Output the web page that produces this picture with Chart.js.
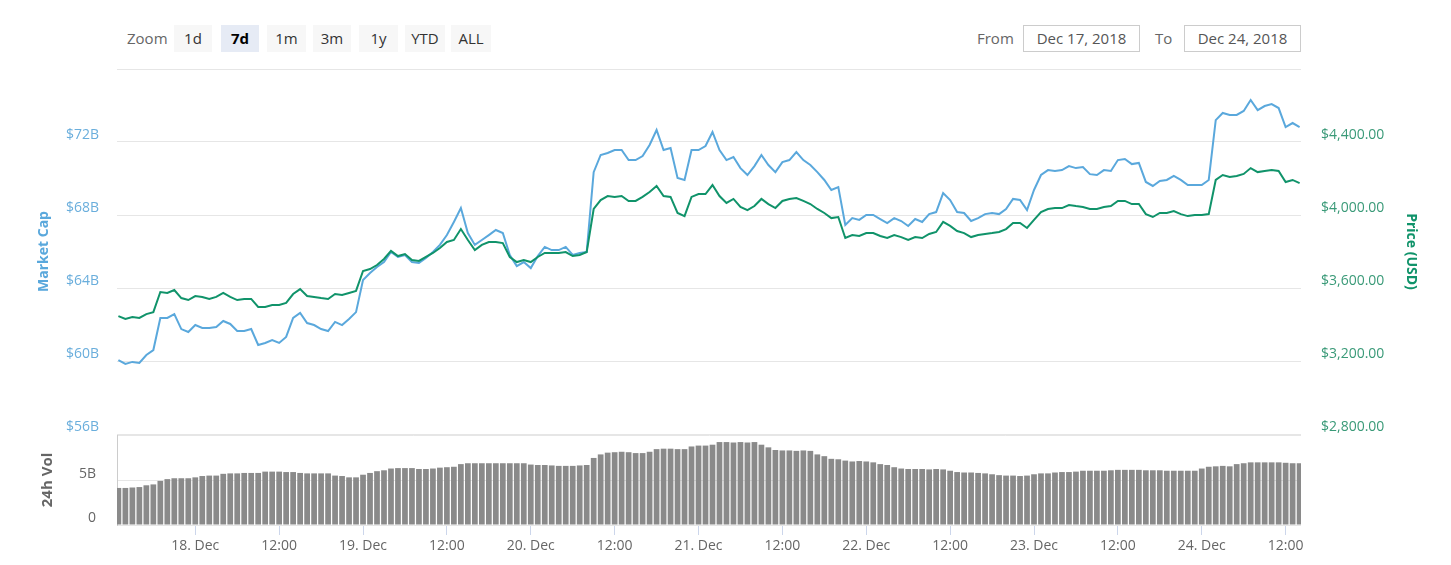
<!DOCTYPE html>
<html>
<head>
<meta charset="utf-8">
<script src="https://cdn.jsdelivr.net/npm/chart.js@4.4.0/dist/chart.umd.min.js"></script>
<style>
  body { margin: 0; background: #fff; font-family: "Open Sans", sans-serif; }
  #wrap { position: relative; width: 1451px; height: 565px; overflow: hidden; }
  canvas { position: absolute; left: 0; }
  .lbl { position: absolute; top: 28px; font-size: 15px; color: #666; }
  .btn { position: absolute; top: 25px; height: 27px; line-height: 27px; background: #f7f7f7;
         text-align: center; font-size: 15px; color: #333; }
  .btn.on { background: #e6ebf5; font-weight: bold; color: #000; }
  .date { position: absolute; top: 25px; width: 115px; height: 25px; line-height: 25px; border: 1px solid #ccc;
          text-align: center; font-size: 15px; color: #555; }
</style>
</head>
<body>
<div id="wrap">
  <canvas id="mainChart" width="1451" height="380" style="top:60px"></canvas>
  <canvas id="volChart" width="1451" height="135" style="top:430px"></canvas>
  <div id="toolbar"></div>
</div>
<script>
// hours relative to 18 Dec 2018 00:00 (one sample per hour)
const hours = [
  -11, -10, -9, -8, -7, -6, -5, -4, -3, -2, -1, 0,
  1, 2, 3, 4, 5, 6, 7, 8, 9, 10, 11, 12,
  13, 14, 15, 16, 17, 18, 19, 20, 21, 22, 23, 24,
  25, 26, 27, 28, 29, 30, 31, 32, 33, 34, 35, 36,
  37, 38, 39, 40, 41, 42, 43, 44, 45, 46, 47, 48,
  49, 50, 51, 52, 53, 54, 55, 56, 57, 58, 59, 60,
  61, 62, 63, 64, 65, 66, 67, 68, 69, 70, 71, 72,
  73, 74, 75, 76, 77, 78, 79, 80, 81, 82, 83, 84,
  85, 86, 87, 88, 89, 90, 91, 92, 93, 94, 95, 96,
  97, 98, 99, 100, 101, 102, 103, 104, 105, 106, 107, 108,
  109, 110, 111, 112, 113, 114, 115, 116, 117, 118, 119, 120,
  121, 122, 123, 124, 125, 126, 127, 128, 129, 130, 131, 132,
  133, 134, 135, 136, 137, 138, 139, 140, 141, 142, 143, 144,
  145, 146, 147, 148, 149, 150, 151, 152, 153, 154, 155, 156,
  157, 158
];

// market cap, billions USD
const marketCap = [
  60.05, 59.84, 59.95, 59.89, 60.33, 60.60, 62.36, 62.36, 62.57, 61.75, 61.59, 61.97,
  61.81, 61.81, 61.86, 62.19, 62.03, 61.64, 61.64, 61.75, 60.88, 60.99, 61.15, 60.99,
  61.32, 62.36, 62.63, 62.08, 61.97, 61.75, 61.64, 62.14, 61.97, 62.30, 62.68, 64.44,
  64.82, 65.15, 65.42, 65.97, 65.70, 65.81, 65.42, 65.37, 65.64, 65.97, 66.36, 66.90,
  67.62, 68.38, 67.01, 66.36, 66.63, 66.90, 67.18, 67.01, 65.81, 65.20, 65.42, 65.09,
  65.75, 66.25, 66.08, 66.08, 66.25, 65.81, 65.92, 65.97, 70.35, 71.29, 71.40, 71.56,
  71.56, 71.01, 71.01, 71.23, 71.84, 72.66, 71.56, 71.67, 70.03, 69.92, 71.56, 71.56,
  71.78, 72.55, 71.56, 71.01, 71.18, 70.57, 70.19, 70.68, 71.29, 70.74, 70.35, 70.90,
  71.01, 71.45, 71.01, 70.74, 70.35, 69.92, 69.37, 69.53, 67.45, 67.83, 67.73, 68.00,
  68.00, 67.78, 67.56, 67.83, 67.67, 67.40, 67.78, 67.62, 68.05, 68.16, 69.20, 68.82,
  68.16, 68.11, 67.67, 67.83, 68.05, 68.11, 68.05, 68.33, 68.88, 68.82, 68.27, 69.37,
  70.19, 70.46, 70.41, 70.46, 70.68, 70.57, 70.63, 70.24, 70.19, 70.46, 70.41, 71.01,
  71.07, 70.79, 70.85, 69.81, 69.59, 69.86, 69.92, 70.14, 69.92, 69.64, 69.64, 69.64,
  69.92, 73.20, 73.59, 73.48, 73.48, 73.70, 74.30, 73.75, 73.97, 74.08, 73.86, 72.82,
  73.04, 72.82
];

// price, USD
const price = [
  3446, 3430, 3441, 3436, 3457, 3468, 3578, 3573, 3589, 3545, 3534, 3556,
  3551, 3540, 3551, 3573, 3551, 3534, 3540, 3540, 3496, 3496, 3507, 3507,
  3518, 3567, 3594, 3556, 3551, 3545, 3540, 3567, 3562, 3573, 3584, 3693,
  3704, 3726, 3759, 3803, 3775, 3786, 3753, 3748, 3770, 3792, 3819, 3852,
  3863, 3923, 3863, 3808, 3836, 3852, 3852, 3846, 3770, 3742, 3753, 3742,
  3770, 3792, 3792, 3792, 3797, 3775, 3781, 3797, 4033, 4082, 4104, 4099,
  4104, 4077, 4077, 4099, 4126, 4159, 4104, 4099, 4011, 3994, 4099, 4115,
  4115, 4164, 4104, 4066, 4088, 4044, 4027, 4049, 4088, 4060, 4038, 4077,
  4088, 4093, 4077, 4060, 4033, 4011, 3983, 3989, 3874, 3890, 3885, 3901,
  3901, 3885, 3874, 3890, 3879, 3863, 3879, 3874, 3896, 3907, 3962, 3940,
  3912, 3901, 3879, 3890, 3896, 3901, 3907, 3923, 3956, 3956, 3929, 3973,
  4016, 4033, 4038, 4038, 4055, 4049, 4044, 4033, 4033, 4044, 4049, 4077,
  4077, 4060, 4060, 4005, 3989, 4011, 4011, 4022, 4005, 3994, 4000, 4000,
  4005, 4192, 4219, 4208, 4214, 4225, 4257, 4235, 4241, 4246, 4241, 4181,
  4192, 4175
];

// 24h volume, billions USD
const volume = [
  4.2, 4.2, 4.25, 4.3, 4.5, 4.6, 5.0, 5.2, 5.3, 5.3, 5.3, 5.4,
  5.55, 5.6, 5.6, 5.8, 5.85, 5.85, 5.9, 5.9, 5.9, 6.05, 6.05, 6.05,
  6.0, 6.0, 5.9, 5.85, 5.85, 5.85, 5.85, 5.6, 5.55, 5.4, 5.4, 5.7,
  5.9, 6.1, 6.2, 6.4, 6.45, 6.45, 6.45, 6.35, 6.35, 6.4, 6.5, 6.55,
  6.6, 6.9, 7.0, 7.0, 7.0, 7.0, 7.0, 7.0, 7.0, 7.0, 7.0, 6.85,
  6.8, 6.8, 6.75, 6.7, 6.7, 6.7, 6.75, 6.8, 7.6, 8.0, 8.2, 8.25,
  8.3, 8.25, 8.15, 8.15, 8.3, 8.6, 8.65, 8.65, 8.6, 8.6, 8.9, 9.0,
  9.0, 9.1, 9.4, 9.4, 9.35, 9.4, 9.35, 9.4, 9.1, 8.8, 8.5, 8.45,
  8.45, 8.4, 8.45, 8.4, 8.0, 7.8, 7.5, 7.45, 7.3, 7.2, 7.25, 7.2,
  7.1, 6.9, 6.8, 6.55, 6.4, 6.35, 6.35, 6.35, 6.3, 6.35, 6.3, 6.15,
  6.0, 5.95, 5.95, 5.9, 5.85, 5.75, 5.65, 5.6, 5.6, 5.55, 5.6, 5.75,
  5.85, 5.85, 5.95, 6.0, 6.0, 6.05, 6.15, 6.15, 6.15, 6.15, 6.2, 6.25,
  6.25, 6.25, 6.25, 6.2, 6.2, 6.2, 6.15, 6.15, 6.15, 6.15, 6.15, 6.4,
  6.6, 6.65, 6.7, 6.65, 6.9, 7.0, 7.1, 7.1, 7.1, 7.1, 7.1, 7.05,
  7.0, 7.0
];

// axis ticks
const xTicks = [0, 12, 24, 36, 48, 60, 72, 84, 96, 108, 120, 132, 144, 156];
const xTickLabels = ['18. Dec', '12:00', '19. Dec', '12:00', '20. Dec', '12:00', '21. Dec',
  '12:00', '22. Dec', '12:00', '23. Dec', '12:00', '24. Dec', '12:00'];
const capTicks = [56, 60, 64, 68, 72, 76];
const capTickLabels = ['$56B', '$60B', '$64B', '$68B', '$72B', ''];
const priceTicks = [2800, 3200, 3600, 4000, 4400, 4800];
const priceTickLabels = ['$2,800.00', '$3,200.00', '$3,600.00', '$4,000.00', '$4,400.00', ''];
const volTicks = [0, 5, 10.2];
const volTickLabels = ['0', '5B', ''];

const zoomButtons = ['1d', '7d', '1m', '3m', '1y', 'YTD', 'ALL'];
const zoomLeft = [174, 221, 267, 313, 359, 405, 451];
const zoomWidth = [38, 38, 39, 38, 39, 40, 40];

const X_MIN = -11.2, X_MAX = 158.2;
const BLUE = '#5aa8dc';
const GREEN = '#10936a';
const FONT = 'Open Sans';

// toolbar
const bar = document.getElementById('toolbar');
function addEl(cls, text, left, width) {
    const d = document.createElement('div');
    d.className = cls;
    d.textContent = text;
    d.style.left = left + 'px';
    if (width) d.style.width = width + 'px';
    bar.appendChild(d);
}
addEl('lbl', 'Zoom', 127);
zoomButtons.forEach((b, i) => addEl(b === '7d' ? 'btn on' : 'btn', b, zoomLeft[i], zoomWidth[i]));
addEl('lbl', 'From', 977);
addEl('date', 'Dec 17, 2018', 1023);
addEl('lbl', 'To', 1155);
addEl('date', 'Dec 24, 2018', 1184);

function fixedTicks(values) {
    return function(scale) { scale.ticks = values.map(v => ({ value: v })); };
}

// force exact axis sizes and drop the half-label padding chart.js adds
function fitSize(w, h) {
    return function(scale) {
        if (w !== null) scale.width = w;
        if (h !== null) scale.height = h;
        scale.paddingTop = 0;
        scale.paddingBottom = 0;
        scale.paddingLeft = 0;
        scale.paddingRight = 0;
    };
}

// main chart: market cap + price
new Chart(document.getElementById('mainChart'), {
    type: 'line',
    data: {
        datasets: [
            {
                label: 'Price (USD)',
                data: hours.map((h, i) => ({ x: h, y: price[i] })),
                borderColor: GREEN,
                borderWidth: 2,
                pointRadius: 0,
                yAxisID: 'yPrice',
                order: 0
            },
            {
                label: 'Market Cap',
                data: hours.map((h, i) => ({ x: h, y: marketCap[i] })),
                borderColor: BLUE,
                borderWidth: 2,
                pointRadius: 0,
                yAxisID: 'yCap',
                order: 1
            }
        ]
    },
    options: {
        responsive: false,
        animation: false,
        layout: { padding: { top: 9, bottom: 6, left: 0, right: 0 } },
        plugins: { legend: { display: false }, tooltip: { enabled: false } },
        scales: {
            x: { type: 'linear', min: X_MIN, max: X_MAX, display: false },
            yCap: {
                position: 'left',
                min: 56, max: 76,
                afterBuildTicks: fixedTicks(capTicks),
                afterFit: fitSize(117, null),
                grid: { color: '#e6e6e6', drawTicks: false },
                border: { display: false },
                ticks: {
                    padding: 18,
                    labelOffset: -7,
                    color: '#6aaedc',
                    font: { family: FONT, size: 14 },
                    callback: v => capTickLabels[capTicks.indexOf(v)]
                },
                title: {
                    display: true, text: 'Market Cap', color: BLUE,
                    font: { family: FONT, size: 14, weight: 'bold' },
                    padding: { top: 36, bottom: 0 }
                }
            },
            yPrice: {
                position: 'right',
                min: 2800, max: 4800,
                afterBuildTicks: fixedTicks(priceTicks),
                afterFit: fitSize(150, null),
                grid: { drawOnChartArea: false, drawTicks: false },
                border: { display: false },
                ticks: {
                    padding: 20,
                    labelOffset: -7,
                    color: '#3a9a78',
                    font: { family: FONT, size: 14 },
                    callback: v => priceTickLabels[priceTicks.indexOf(v)]
                },
                title: {
                    display: true, text: 'Price (USD)', color: GREEN,
                    font: { family: FONT, size: 14, weight: 'bold' },
                    padding: { top: 32, bottom: 0 }
                }
            }
        }
    }
});

// volume chart
new Chart(document.getElementById('volChart'), {
    type: 'bar',
    data: {
        datasets: [{
            label: '24h Vol',
            data: hours.map((h, i) => ({ x: h, y: volume[i] })),
            backgroundColor: '#8a8a8a',
            borderWidth: 0,
            barPercentage: 0.82,
            categoryPercentage: 1
        }]
    },
    options: {
        responsive: false,
        animation: false,
        layout: { padding: { top: 5, bottom: 0, left: 0, right: 150 } },
        plugins: { legend: { display: false }, tooltip: { enabled: false } },
        scales: {
            x: {
                type: 'linear', min: X_MIN, max: X_MAX, offset: false,
                afterBuildTicks: fixedTicks(xTicks),
                afterFit: fitSize(null, 40),
                grid: { offset: false, drawOnChartArea: false, drawTicks: true, tickLength: 10, color: '#ccd6eb' },
                border: { display: false },
                ticks: {
                    padding: 3,
                    maxRotation: 0,
                    autoSkip: false,
                    color: '#666',
                    font: { family: FONT, size: 14 },
                    callback: v => xTickLabels[xTicks.indexOf(v)]
                }
            },
            y: {
                position: 'left',
                min: 0, max: 10.2,
                afterBuildTicks: fixedTicks(volTicks),
                afterFit: fitSize(117, null),
                grid: { color: '#e6e6e6', drawTicks: false },
                border: { display: true, color: '#cccccc' },
                ticks: {
                    padding: 21,
                    labelOffset: -7,
                    color: '#666',
                    font: { family: FONT, size: 14 },
                    callback: v => volTickLabels[volTicks.indexOf(v)]
                },
                title: {
                    display: true, text: '24h Vol', color: '#666',
                    font: { family: FONT, size: 15, weight: 'bold' },
                    padding: { top: 39, bottom: 0 }
                }
            }
        }
    }
});
</script>
</body>
</html>
